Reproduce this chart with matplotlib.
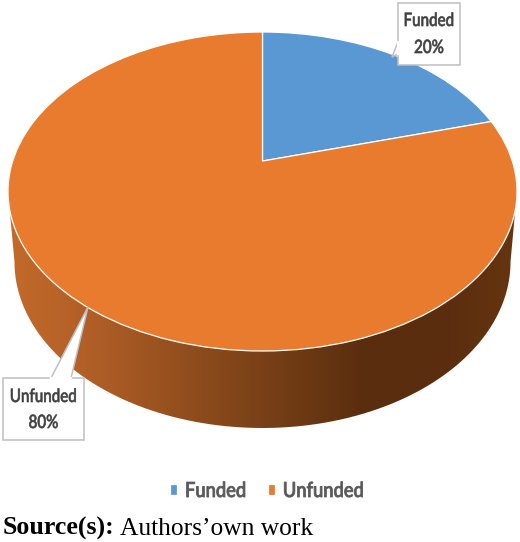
#!/usr/bin/env python3
# pie in excel 3D style, tilted disc with a shaded wall under it
import numpy as np
import matplotlib
matplotlib.use('Agg')
import matplotlib.pyplot as plt
import matplotlib.patheffects as pe
from matplotlib.colors import LinearSegmentedColormap
from matplotlib.patches import PathPatch, Polygon
from matplotlib.path import Path
from matplotlib.transforms import Affine2D, Transform

categorias = ['Funded', 'Unfunded']
valores = [20, 80]
colores = ['#5A98D3', '#E97B2F']
etiquetas = ['Funded\n20%', 'Unfunded\n80%']

NARROW = ['Lato', 'DejaVu Sans']
SERIF = ['Liberation Serif', 'DejaVu Serif']


class Inclinacion(Transform):
    # perspective of the unit disc: the rim stays a circle, the centre moves back
    input_dims = 2
    output_dims = 2
    is_affine = False

    def __init__(self, k, extra):
        super().__init__()
        self.k = k
        self.extra = extra

    def transform_non_affine(self, values):
        values = np.asarray(values, dtype=float)
        den = 1 + self.k * values[:, 1]
        r2 = np.clip((values ** 2).sum(axis=1), 0, 1)
        x = values[:, 0] * np.sqrt(1 - self.k ** 2) / den
        y = (values[:, 1] + self.k) / den + self.extra * (1 - r2)
        return np.column_stack([x, y])


class Estrecho(pe.AbstractPathEffect):
    # no condensed font here, so squeeze the glyphs sideways and thicken them a bit
    def __init__(self, sx, centrar=True, grueso=0.45):
        super().__init__()
        self.sx = sx
        self.centrar = centrar
        self.grueso = grueso

    def draw_path(self, renderer, gc, tpath, affine, rgbFace=None):
        w = tpath.get_extents().x1 if self.centrar else 0
        tr = Affine2D().translate(-w / 2, 0).scale(self.sx, 1).translate(w / 2, 0)
        gc0 = renderer.new_gc()
        gc0.copy_properties(gc)
        gc0.set_foreground(rgbFace)
        gc0.set_linewidth(self.grueso)
        renderer.draw_path(gc0, tpath, tr + affine, rgbFace)
        gc0.restore()


def elipse(cx, cy, a, b, t):
    return np.column_stack([cx + a * np.cos(t), cy + b * np.sin(t)])


def callout(ax, caja, cola, texto, y_lineas):
    x0, y0, x1, y1 = caja
    ax.add_patch(Polygon(cola, closed=True, fc='white', ec='#BFBFBF', lw=1.1, zorder=5))
    ax.add_patch(Polygon([(x0, y0), (x1, y0), (x1, y1), (x0, y1)], closed=True,
                         fc='white', ec='#BFBFBF', lw=1.1, zorder=6))
    # cover the box border where the tail joins it
    ax.plot([cola[0][0], cola[2][0]], [cola[0][1], cola[2][1]], color='white', lw=1.6, zorder=7)
    for linea, y in zip(texto.split('\n'), y_lineas):
        ax.text((x0 + x1) / 2, y, linea, ha='center', va='center', color='#404040',
                fontsize=13.3, family=NARROW, fontweight='medium', zorder=8,
                path_effects=[Estrecho(0.82)])


fig = plt.figure(figsize=(5.2, 5.42), dpi=100)
ax = fig.add_axes([0, 0, 1, 1])

wedges, _ = ax.pie(valores, colors=colores, startangle=90, counterclock=False,
                   wedgeprops={'edgecolor': 'white', 'linewidth': 0.9})
ax.set_aspect('auto')
ax.set_xlim(0, 520)
ax.set_ylim(542, 0)
ax.axis('off')

disco = Inclinacion(0.15, 0.041) + Affine2D().scale(254.5, -159.5).translate(262.5, 191.5) + ax.transData
for w in wedges:
    w.set_transform(disco)
    w.set_zorder(3)

# wall: gradient image clipped to the outline under the disc
t = np.linspace(np.pi, 0, 200)
contorno = np.vstack([[(8, 191)], elipse(262.5, 262, 248, 166, t), [(517, 191)]])
cmap = LinearSegmentedColormap.from_list('pared', [
    (0.00, '#C46A2B'), (0.18, '#AE5D26'), (0.37, '#8E4C1C'), (0.57, '#6E3A14'),
    (0.70, '#5A2D0F'), (0.87, '#5C2E10'), (1.00, '#66350F')], N=512)
pared = ax.imshow(np.linspace(0, 1, 512).reshape(1, -1), cmap=cmap, aspect='auto',
                  extent=(8, 517, 430, 185), zorder=1)
ax.set_xlim(0, 520)
ax.set_ylim(542, 0)
clip = PathPatch(Path(contorno), transform=ax.transData, fc='none', ec='none')
ax.add_patch(clip)
pared.set_clip_path(clip)

callout(ax, (398, 3, 460, 65), [(398, 42), (392, 57), (398, 54)], etiquetas[0], (21, 48))
callout(ax, (3, 378, 84, 440), [(51, 378), (88, 307), (71, 378)], etiquetas[1], (397, 423))

leyenda = ax.legend(wedges, categorias, loc='center left', bbox_to_anchor=(170 / 520, 1 - 491 / 542),
                    ncol=2, frameon=False, borderpad=0, borderaxespad=0, handlelength=0.34,
                    handleheight=0.43, handletextpad=0.38, columnspacing=0.62,
                    prop={'family': NARROW, 'size': 15, 'weight': 'medium'}, labelcolor='#595959')
for txt in leyenda.get_texts():
    txt.set_path_effects([Estrecho(0.88, centrar=False, grueso=0.6)])

ax.text(3, 535, 'Source(s):', fontsize=18.6, fontweight='bold', family=SERIF, va='baseline', color='black')
ax.text(120, 535, 'Authors\u2019own work', fontsize=18.4, family=SERIF, va='baseline', color='black')

fig.savefig('out.png', dpi=100)
